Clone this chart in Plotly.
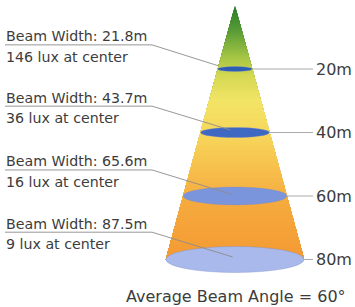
import plotly.graph_objects as go

# ---- data ----
distances = [20, 40, 60, 80]                       # m
beam_widths = [21.8, 43.7, 65.6, 87.5]             # m
lux_center = [146, 36, 16, 9]
distance_labels = ["20m", "40m", "60m", "80m"]
beam_angle = 60

# ---- styles ----
ellipse_colors = ["#2c5cb4", "#3f68c2", "#7a95dc", "#a9b9ec"]
ellipse_ry = [0.8, 1.6, 2.8, 4.1]                 # perspective depth (in distance units)
label_offsets = [7.6, 8.3, 8.2, 8.6]              # underline above ring (distance units)
leader_end_x = [-10.5, -3.0, -2.0, -1.5]
leader_end_dy = [-1.0, -0.8, -0.5, -0.8]
grad_stops = [(0, "#2a7a2c"), (8, "#5a9c36"), (16, "#a3c443"), (22, "#d4d853"),
              (30, "#f2e466"), (40, "#f7d75c"), (50, "#f7c34e"), (62, "#f5aa3e"),
              (80, "#f49a33")]

PX_X = 1.58       # px per metre of half width
PX_Y = 3.175      # px per metre of distance
CX, TOPY = 235, 5.5
W, H = 355, 307
x_range = [(0 - CX) / PX_X, (W - CX) / PX_X]
y_range = [(H - TOPY) / PX_Y, (0 - TOPY) / PX_Y]
FONT = "DejaVu Sans"
TXT = "#3c3c3c"


def xd(px):
    return (px - CX) / PX_X


def hex2rgb(h):
    h = h.lstrip("#")
    return tuple(int(h[i:i + 2], 16) for i in (0, 2, 4))


def grad(d):
    for (d0, c0), (d1, c1) in zip(grad_stops, grad_stops[1:]):
        if d0 <= d <= d1:
            t = (d - d0) / (d1 - d0)
            a, b = hex2rgb(c0), hex2rgb(c1)
            return "rgb(%d,%d,%d)" % tuple(round(a[i] + (b[i] - a[i]) * t) for i in range(3))
    return grad_stops[-1][1]


max_d = distances[-1]
slope = beam_widths[-1] / 2 / max_d

shapes = []
n = 160
for i in range(n):
    d0 = max_d * i / n
    d1 = max_d
    w0, w1 = slope * d0, slope * d1
    c = grad(d0 + max_d / n / 2)
    shapes.append(dict(type="path", xref="x", yref="y",
                       path=f"M {-w0} {d0} L {w0} {d0} L {w1} {d1} L {-w1} {d1} Z",
                       fillcolor=c, line=dict(width=0), layer="below"))

for d, bw, col, ry in zip(distances, beam_widths, ellipse_colors, ellipse_ry):
    shapes.append(dict(type="circle", xref="x", yref="y",
                       x0=-bw / 2, x1=bw / 2, y0=d - ry, y1=d + ry,
                       fillcolor=col, line=dict(width=0.6, color="rgba(120,140,200,0.6)")))

annotations = []
font_l = dict(family=FONT, size=14.2, color=TXT)
for i, (d, bw, lux) in enumerate(zip(distances, beam_widths, lux_center)):
    uy = d - label_offsets[i]
    shapes.append(dict(type="path", xref="x", yref="y",
                       path=f"M {xd(5)} {uy} L {xd(152)} {uy} L {leader_end_x[i]} {d + leader_end_dy[i]}",
                       line=dict(color="rgba(140,140,140,0.9)", width=1)))
    shapes.append(dict(type="line", xref="x", yref="y",
                       x0=bw / 2, x1=xd(313), y0=d, y1=d,
                       line=dict(color="#aaaaaa", width=1)))
    annotations.append(dict(xref="paper", yref="y", x=4 / W, y=uy - 8.5 / PX_Y,
                            xanchor="left", yanchor="middle", showarrow=False,
                            text=f"Beam Width: {bw}m", font=font_l))
    annotations.append(dict(xref="paper", yref="y", x=4 / W, y=uy + 12 / PX_Y,
                            xanchor="left", yanchor="middle", showarrow=False,
                            text=f"{lux} lux at center", font=font_l))
    annotations.append(dict(xref="paper", yref="y", x=314 / W, y=d,
                            xanchor="left", yanchor="middle", showarrow=False,
                            text=distance_labels[i],
                            font=dict(family=FONT, size=16, color=TXT)))

annotations.append(dict(xref="paper", yref="y", x=236 / W, y=(296 - TOPY) / PX_Y,
                        xanchor="center", yanchor="middle", showarrow=False,
                        text=f"Average Beam Angle = {beam_angle}°",
                        font=dict(family=FONT, size=16, color=TXT)))

fig = go.Figure()
fig.add_trace(go.Scatter(x=[0], y=[0], mode="markers", marker=dict(opacity=0),
                         hoverinfo="skip", showlegend=False))
fig.update_layout(width=W, height=H, margin=dict(l=0, r=0, t=0, b=0),
                  paper_bgcolor="white", plot_bgcolor="white",
                  shapes=shapes, annotations=annotations, showlegend=False,
                  xaxis=dict(range=x_range, visible=False, fixedrange=True),
                  yaxis=dict(range=y_range, visible=False, fixedrange=True))
fig.write_html("out.html", config={"displayModeBar": False},
               post_script="document.body.style.margin='0px';document.body.style.overflow='hidden';")
